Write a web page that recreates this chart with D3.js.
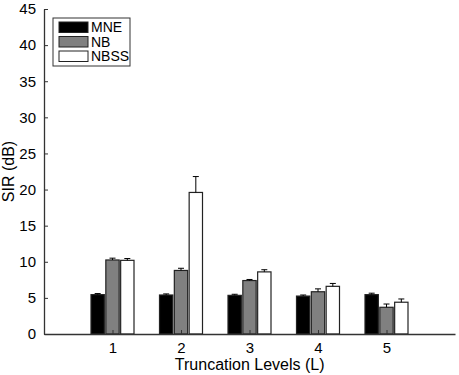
<!DOCTYPE html>
<html>
<head>
<meta charset="utf-8">
<script src="https://cdn.jsdelivr.net/npm/d3@7"></script>
<style>
  body { margin: 0; background: #fff; }
  text { font-family: "Liberation Sans", Arial, sans-serif; fill: #000; }
</style>
</head>
<body>
<svg width="459" height="375"></svg>
<script>
// truncation levels
let levels = [1, 2, 3, 4, 5];
let seriesNames = ["MNE", "NB", "NBSS"];
let seriesFill = ["#000000", "#808080", "#ffffff"];

// SIR values (dB) and error bars
let mne = [5.45, 5.4, 5.35, 5.25, 5.45];
let nb = [10.25, 8.8, 7.4, 5.85, 3.7];
let nbss = [10.2, 19.6, 8.6, 6.6, 4.4];
let mneErr = [0.15, 0.15, 0.15, 0.15, 0.2];
let nbErr = [0.25, 0.3, 0.15, 0.4, 0.45];
let nbssErr = [0.25, 2.2, 0.3, 0.4, 0.45];

let yTicks = [0, 5, 10, 15, 20, 25, 30, 35, 40, 45];

let values = [mne, nb, nbss];
let errs = [mneErr, nbErr, nbssErr];

let margin = {top: 9, right: 4, bottom: 41, left: 44},
    width = 459 - margin.left - margin.right,
    height = 375 - margin.top - margin.bottom;

let svg = d3.select("svg")
  .append("g")
  .attr("transform", "translate(" + margin.left + "," + margin.top + ")");

let x = d3.scaleLinear().domain([0, 6]).range([0, width]);
let y = d3.scaleLinear().domain([0, 45]).range([height, 0]);

let groupW = 43;
let x1 = d3.scaleBand().domain(seriesNames).range([-groupW / 2, groupW / 2]).paddingInner(0.1);

// bars
seriesNames.forEach(function(name, s) {
  let g = svg.append("g");
  g.selectAll("rect")
    .data(levels)
    .enter().append("rect")
    .attr("x", function(d) { return x(d) + x1(name); })
    .attr("y", function(d, i) { return y(values[s][i]); })
    .attr("width", x1.bandwidth())
    .attr("height", function(d, i) { return height - y(values[s][i]); })
    .attr("fill", seriesFill[s])
    .attr("stroke", "#222")
    .attr("stroke-width", 1.2);

  // error bars (upper only)
  let e = g.selectAll(".err")
    .data(levels)
    .enter().append("g")
    .attr("class", "err");
  e.append("line")
    .attr("x1", function(d) { return x(d) + x1(name) + x1.bandwidth() / 2; })
    .attr("x2", function(d) { return x(d) + x1(name) + x1.bandwidth() / 2; })
    .attr("y1", function(d, i) { return y(values[s][i]); })
    .attr("y2", function(d, i) { return y(values[s][i] + errs[s][i]); })
    .attr("stroke", "#000")
    .attr("stroke-width", 1);
  e.append("line")
    .attr("x1", function(d) { return x(d) + x1(name) + x1.bandwidth() / 2 - 3; })
    .attr("x2", function(d) { return x(d) + x1(name) + x1.bandwidth() / 2 + 3; })
    .attr("y1", function(d, i) { return y(values[s][i] + errs[s][i]); })
    .attr("y2", function(d, i) { return y(values[s][i] + errs[s][i]); })
    .attr("stroke", "#000")
    .attr("stroke-width", 1);
});

// axes
let yAxis = svg.append("g")
  .call(d3.axisLeft(y).tickValues(yTicks).tickFormat(d3.format("d")).tickSizeInner(-4).tickSizeOuter(0).tickPadding(8));
let xAxis = svg.append("g")
  .attr("transform", "translate(0," + height + ")")
  .call(d3.axisBottom(x).tickValues(levels).tickFormat(d3.format("d")).tickSizeInner(-4).tickSizeOuter(0).tickPadding(8));

[yAxis, xAxis].forEach(function(a) {
  a.select(".domain").attr("stroke", "#333").attr("stroke-width", 1.3);
  a.selectAll(".tick line").attr("stroke", "#333");
  a.selectAll("text").attr("font-size", 15).attr("font-family", "Liberation Sans, Arial, sans-serif").attr("fill", "#000");
});

// axis labels
svg.append("text")
  .attr("x", x(3.003))
  .attr("y", height + 36)
  .attr("text-anchor", "middle")
  .attr("font-size", 16)
  .text("Truncation Levels (L)");

svg.append("text")
  .attr("transform", "translate(-30," + (height / 2) + ") rotate(-90)")
  .attr("text-anchor", "middle")
  .attr("font-size", 16)
  .text("SIR (dB)");

// legend
let legend = svg.append("g").attr("transform", "translate(9,9)");
legend.append("rect")
  .attr("width", 77).attr("height", 48)
  .attr("fill", "#fff").attr("stroke", "#333").attr("stroke-width", 1);
seriesNames.forEach(function(name, s) {
  legend.append("rect")
    .attr("x", 6).attr("y", 4 + s * 14.5)
    .attr("width", 29).attr("height", 10.5)
    .attr("fill", seriesFill[s]).attr("stroke", "#222").attr("stroke-width", 1);
  legend.append("text")
    .attr("x", 38).attr("y", 14 + s * 14.5)
    .attr("font-size", 14)
    .text(name);
});
</script>
</body>
</html>
